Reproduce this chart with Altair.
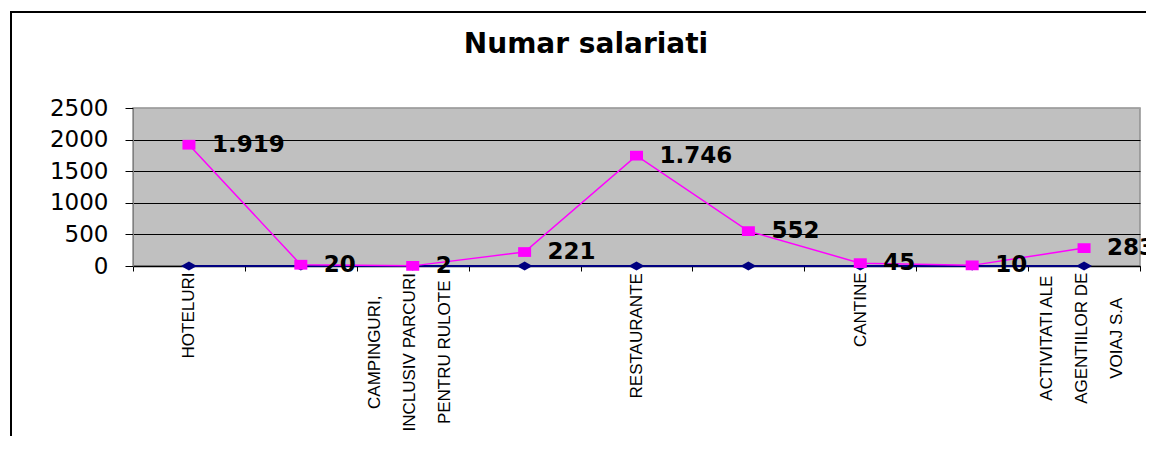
import json
import altair as alt
import pandas as pd

# ---- data ----
category_lines = [
    ["HOTELURI"],
    [""],
    ["CAMPINGURI,", "INCLUSIV PARCURI", "PENTRU RULOTE"],
    [""],
    ["RESTAURANTE"],
    [""],
    ["CANTINE"],
    [""],
    ["ACTIVITATI ALE", "AGENTIILOR DE", "VOIAJ S.A"],
]
category_index = [1, 2, 3, 4, 5, 6, 7, 8, 9]
numar_salariati = [1919, 20, 2, 221, 1746, 552, 45, 10, 283]
serie_zero = [0, 0, 0, 0, 0, 0, 0, 0, 0]
y_ticks = [0, 500, 1000, 1500, 2000, 2500]
chart_title = "Numar salariati"

df = pd.DataFrame({
    "idx": category_index,
    "salariati": numar_salariati,
    "zero": serie_zero,
    "label": [f"{v:,}".replace(",", ".") for v in numar_salariati],
})

# --- label layout: centred lines, block starting just under the axis ---
LABEL_SIZE = 17
ARIAL_W = {
    "A": 667, "B": 667, "C": 722, "D": 722, "E": 667, "F": 611, "G": 778, "H": 722,
    "I": 278, "J": 500, "K": 667, "L": 556, "M": 833, "N": 722, "O": 778, "P": 667,
    "Q": 778, "R": 722, "S": 667, "T": 611, "U": 722, "V": 667, "W": 944, "X": 667,
    "Y": 667, "Z": 611, " ": 278, ",": 278, ".": 278,
}


def text_len(s):
    return sum(ARIAL_W.get(c, 600) for c in s) / 1000 * LABEL_SIZE


pad_conditions = []
for i, lines in zip(category_index, category_lines):
    block = max(text_len(s) for s in lines)
    if block > 0:
        pad_conditions.append({"test": f"datum.value == {i}", "value": round(1 + block / 2, 1)})

label_expr = f"{json.dumps(category_lines)}[datum.value - 1]"
multi_test = " || ".join(
    f"datum.value == {i}" for i, lines in zip(category_index, category_lines) if len(lines) > 1
)

x_enc = alt.X(
    "idx:O",
    scale=alt.Scale(type="band", paddingInner=0, paddingOuter=0),
    bandPosition=0.5,
    axis=alt.Axis(
        title=None, labelAngle=-90, labelExpr=label_expr, tickBand="extent",
        tickSize=5, labelFont="Liberation Sans", labelFontSize=LABEL_SIZE,
        labelColor="black", labelLineHeight=35, domainColor="black", tickColor="black",
        grid=False, labelAlign="center", labelBaseline="middle", labelOverlap=False,
        labelPadding={"condition": pad_conditions, "value": 1},
        labelOffset={"condition": {"test": multi_test, "value": -38}, "value": 0},
        domainWidth=1.5,
    ),
)

y_scale = alt.Scale(domain=[0, 2500], nice=False)
y_axis = alt.Axis(
    title=None, values=y_ticks, format="d", labelOverlap=False,
    labelFont="DejaVu Sans", labelFontSize=23,
    labelColor="black", labelPadding=17, tickSize=8, tickColor="black",
    domainColor="#808080",
    gridColor={"condition": {"test": "datum.value == 2500", "value": "#a0a0a0"}, "value": "black"},
    gridWidth=1,
)

base = alt.Chart(df).encode(x=x_enc)

blue_line = base.mark_line(color="#000080", strokeWidth=2).encode(
    y=alt.Y("zero:Q", scale=y_scale, axis=y_axis)
)
blue_pts = base.mark_point(
    shape="M0,-0.56L1,0L0,0.56L-1,0Z", filled=True, size=256, color="#000080", opacity=1
).encode(y=alt.Y("zero:Q", scale=y_scale, axis=y_axis))

pink_line = base.mark_line(color="#FF00FF", strokeWidth=1.5).encode(
    y=alt.Y("salariati:Q", scale=y_scale, axis=y_axis)
)
pink_pts = base.mark_point(
    shape="M-1,-0.75H1V0.75H-1Z", filled=True, size=169, color="#FF00FF", opacity=1
).encode(y=alt.Y("salariati:Q", scale=y_scale, axis=y_axis))

labels = base.mark_text(
    align="left", baseline="middle", dx=23, font="DejaVu Sans",
    fontWeight="bold", fontSize=23, color="black"
).encode(y=alt.Y("salariati:Q", scale=y_scale, axis=y_axis), text="label:N")

one_row = alt.Data(values=[{"t": chart_title}])
title_mark = alt.Chart(one_row).mark_text(
    font="DejaVu Sans", fontSize=28, fontWeight="bold", color="black",
    align="center", baseline="alphabetic"
).encode(x=alt.value(453), y=alt.value(-55), text="t:N")

frame_left = alt.Chart(one_row).mark_rule(color="black", strokeWidth=2).encode(
    x=alt.value(-122), y=alt.value(-96), y2=alt.value(345)
)
frame_top = alt.Chart(one_row).mark_rule(color="black", strokeWidth=2).encode(
    x=alt.value(-123), x2=alt.value(1030), y=alt.value(-96)
)

chart = alt.layer(
    blue_line, blue_pts, pink_line, pink_pts, labels, title_mark, frame_left, frame_top
).properties(
    width=1007,
    height=158,
    autosize="none",
    padding={"left": 125, "top": 100, "right": 6, "bottom": 170},
).configure_view(
    fill="#C0C0C0", stroke="#909090", strokeWidth=1.5
)

chart.save("out.html", embed_options={"renderer": "svg", "actions": False})
